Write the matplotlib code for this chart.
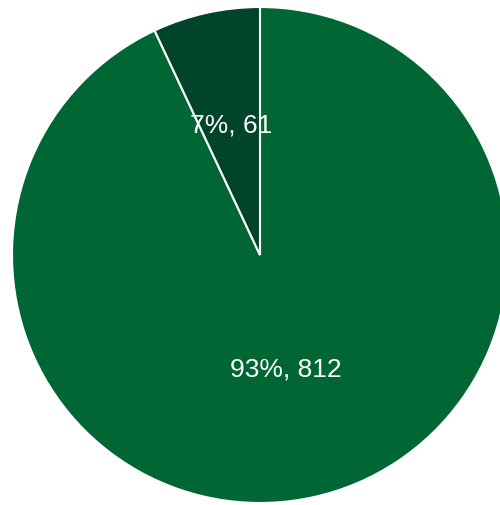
import numpy as np
import matplotlib
matplotlib.use("Agg")
import matplotlib.pyplot as plt

# datos
values = [812, 61]
labels = ["93%, 812", "7%, 61"]
colors = ["#006633", "#00452a"]
label_r = [0.47, 0.54]

fig = plt.figure(figsize=(5.0, 5.06), dpi=100)
# centro (260, 256) px, radio 248 px -> el borde derecho queda cortado
cx, cy, r = 260, 256, 248
ax = fig.add_axes([(cx - r) / 500, (506 - cy - r) / 506, 2 * r / 500, 2 * r / 506])

wedges, texts = ax.pie(
    values, colors=colors, startangle=90, counterclock=False,
    labels=labels, labeldistance=0.5,
    wedgeprops=dict(edgecolor="white", linewidth=1.5),
    textprops=dict(color="white", fontsize=19, family="Liberation Sans"),
)
for w, t, d in zip(wedges, texts, label_r):
    ang = np.deg2rad((w.theta1 + w.theta2) / 2)
    t.set_position((d * np.cos(ang), d * np.sin(ang)))
    t.set_ha("center")
    t.set_va("center")

ax.set_xlim(-1, 1)
ax.set_ylim(-1, 1)
ax.set_aspect("auto")
for p in wedges:
    p.set_clip_on(False)

fig.savefig("out.png", dpi=100, facecolor="white")
